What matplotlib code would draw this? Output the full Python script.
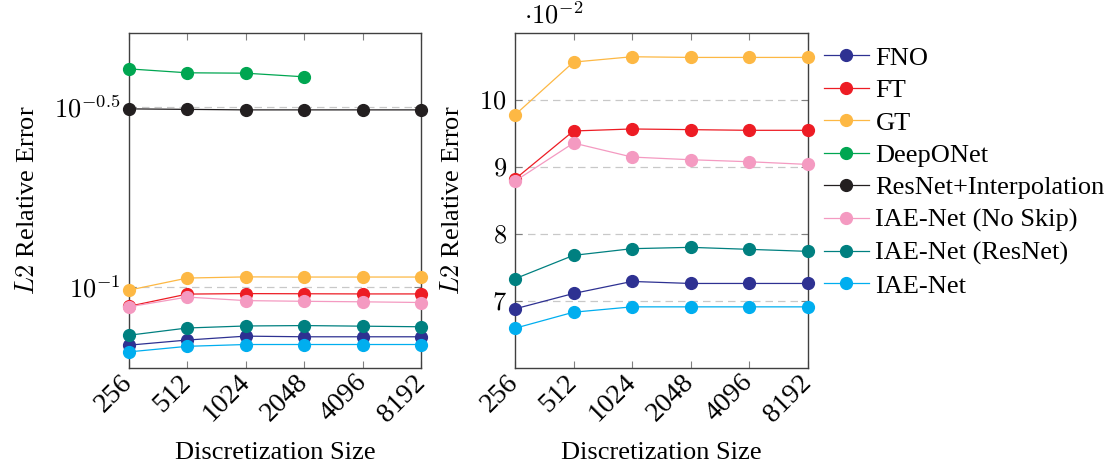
import numpy as np
import matplotlib
matplotlib.use("Agg")
from matplotlib import pyplot as plt
from matplotlib.ticker import NullLocator, FixedLocator

plt.rcParams['font.family'] = ['Liberation Serif', 'DejaVu Serif']
plt.rcParams['mathtext.fontset'] = 'cm'

# data
sizes = [256, 512, 1024, 2048, 4096, 8192]
fno = [0.0688, 0.0711, 0.0729, 0.0726, 0.0726, 0.0726]
ft = [0.0882, 0.0954, 0.0957, 0.0956, 0.0955, 0.0955]
gt = [0.0978, 0.1057, 0.1065, 0.1064, 0.1064, 0.1064]
deeponet = [0.403, 0.393, 0.392, 0.383]
resnet_interp = [0.312, 0.311, 0.310, 0.310, 0.310, 0.310]
iae_noskip = [0.0879, 0.0936, 0.0915, 0.0911, 0.0908, 0.0904]
iae_resnet = [0.0733, 0.0768, 0.0778, 0.0780, 0.0777, 0.0774]
iae_net = [0.0659, 0.0683, 0.0691, 0.0691, 0.0691, 0.0691]

colors = {
    'FNO': '#2E3192',
    'FT': '#ED1C24',
    'GT': '#FDB844',
    'DeepONet': '#00A651',
    'ResNet+Interpolation': '#231F20',
    'IAE-Net (No Skip)': '#F49AC1',
    'IAE-Net (ResNet)': '#008080',
    'IAE-Net': '#00AEEF',
}

left_series = [('FNO', fno), ('FT', ft), ('GT', gt), ('DeepONet', deeponet),
               ('ResNet+Interpolation', resnet_interp),
               ('IAE-Net (No Skip)', iae_noskip), ('IAE-Net (ResNet)', iae_resnet),
               ('IAE-Net', iae_net)]
right_series = [s for s in left_series if s[0] not in ('DeepONet', 'ResNet+Interpolation')]

fs = 19
fs_x = 20

fig = plt.figure(figsize=(11.12, 4.67), dpi=100)
ax1 = fig.add_axes([0.1157, 0.2126, 0.2632, 0.716])
ax2 = fig.add_axes([0.4631, 0.2126, 0.2632, 0.716])


def style_axis(ax):
    ax.set_xscale('log', base=2)
    ax.set_xlim(256, 8192)
    ax.xaxis.set_minor_locator(NullLocator())
    ax.set_xticks(sizes)
    ax.set_xticklabels([str(s) for s in sizes], rotation=45, ha='right', va='center',
                       rotation_mode='anchor', fontsize=fs_x)
    ax.tick_params(axis='both', which='major', direction='in', length=5, width=0.8,
                   color='#808080', top=True, right=True, pad=6)
    ax.tick_params(axis='y', labelsize=fs)
    ax.tick_params(axis='x', pad=8)
    ax.grid(axis='y', which='major', linestyle=(0, (6, 4)), color='#c8c8c8', linewidth=0.9)
    ax.set_axisbelow(True)
    for sp in ax.spines.values():
        sp.set_color('#404040')
        sp.set_linewidth(1.0)
    ax.set_xlabel('Discretization Size', fontsize=fs, labelpad=11)
    ax.set_ylabel('$L2$ Relative Error', fontsize=fs, labelpad=11)


handles = []
for name, vals in left_series:
    h, = ax1.plot(sizes[:len(vals)], vals, color=colors[name], linewidth=0.9,
                  marker='o', markersize=8.5, label=name, clip_on=False, zorder=3)
    handles.append(h)
ax1.set_yscale('log')
ax1.set_ylim(10 ** -1.225, 10 ** -0.296)
ax1.yaxis.set_minor_locator(NullLocator())
ax1.set_yticks([10 ** -1, 10 ** -0.5])
ax1.set_yticklabels(['$10^{-1}$', '$10^{-0.5}$'])
ax1.yaxis.set_minor_formatter(plt.NullFormatter())
style_axis(ax1)

for name, vals in right_series:
    ax2.plot(sizes, vals, color=colors[name], linewidth=0.9, marker='o',
             markersize=8.5, clip_on=False, zorder=3)
ax2.set_ylim(0.06, 0.11)
ax2.set_yticks([0.07, 0.08, 0.09, 0.10])
ax2.set_yticklabels(['$7$', '$8$', '$9$', '$10$'])
style_axis(ax2)
ax2.text(0.03, 1.015, r'$\cdot 10^{-2}$', transform=ax2.transAxes, fontsize=fs,
         ha='left', va='bottom')

fig.legend(handles=handles, loc='upper left', bbox_to_anchor=(0.741, 0.901),
           frameon=False, fontsize=fs, handlelength=1.7, handletextpad=0.25,
           labelspacing=0.34, borderaxespad=0.0, borderpad=0.0)

fig.savefig('out.png', dpi=100)
